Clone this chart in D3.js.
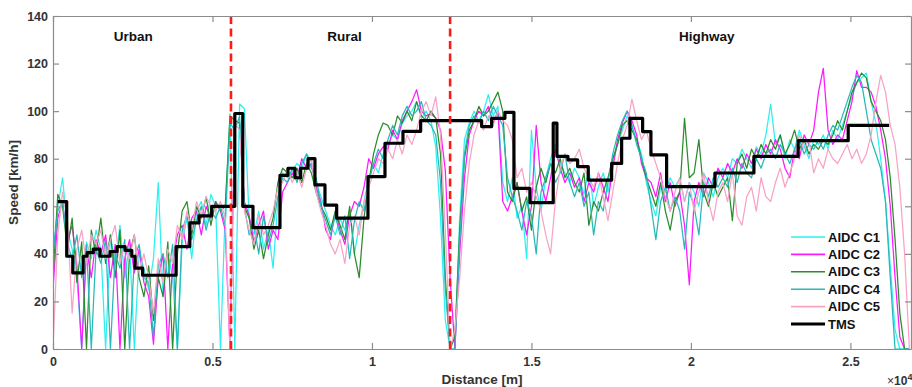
<!DOCTYPE html>
<html>
<head>
<meta charset="utf-8">
<script src="https://cdn.jsdelivr.net/npm/d3@7"></script>
<style>
  body { margin: 0; background: #fff; }
  svg text { font-family: "Liberation Sans", Arial, sans-serif; font-weight: bold; }
</style>
</head>
<body>
<div id="chart"></div>
<script>
// AIDC samples, one value every 150 m starting at 0 m
const sampleStep = 150;

const aidcC1 = [
    40, 60, 72, 50, 42, 30, 0, 45, 38, 50,
    42, 0, 48, 36, 52, 30, 44, 0, 40, 34,
    25, 38, 70, 22, 40, 30, 0, 45, 55, 38,
    58, 62, 52, 65, 60, 0, 58, 99, 0, 103,
    101, 55, 48, 58, 42, 50, 34, 62, 74, 72,
    75, 78, 76, 82, 79, 70, 64, 58, 52, 48,
    55, 50, 58, 40, 52, 62, 72, 78, 74, 82,
    86, 90, 88, 95, 98, 100, 104, 97, 100, 96,
    85, 55, 12, 0, 0, 55, 88, 95, 100, 96,
    100, 107, 98, 102, 70, 62, 72, 55, 60, 38,
    92, 68, 58, 72, 80, 86, 78, 74, 70, 76,
    72, 65, 76, 60, 68, 74, 66, 78, 86, 92,
    98, 94, 88, 82, 70, 62, 56, 68, 66, 72,
    68, 72, 62, 70, 66, 60, 74, 70, 64, 72,
    76, 72, 80, 78, 84, 80, 76, 85, 82, 90,
    103, 86, 90, 80, 88, 84, 92, 86, 80, 88,
    86, 90, 84, 92, 88, 94, 100, 106, 112, 114,
    116, 104, 95, 80, 62, 35, 8, 0, 0, 0
];
const aidcC2 = [
    25, 55, 62, 45, 52, 35, 0, 42, 30, 46,
    40, 48, 30, 44, 0, 38, 46, 32, 42, 28,
    22, 2, 30, 40, 0, 36, 48, 52, 42, 55,
    58, 48, 60, 55, 62, 58, 50, 0, 96, 95,
    62, 56, 45, 52, 58, 42, 50, 46, 66, 70,
    74, 72, 80, 76, 78, 68, 62, 50, 46, 58,
    50, 44, 56, 62, 60, 68, 80, 76, 82, 85,
    84, 92, 88, 96, 100, 104, 109, 100, 98, 99,
    97, 92, 75, 30, 0, 40, 72, 90, 96, 100,
    98, 102, 95, 100, 62, 58, 64, 70, 58, 48,
    60, 94, 70, 62, 72, 84, 76, 70, 74, 68,
    72, 62, 70, 66, 74, 68, 62, 76, 88, 95,
    100, 96, 90, 78, 72, 70, 64, 74, 62, 70,
    60, 66, 52, 27, 62, 70, 64, 72, 68, 76,
    72, 78, 74, 80, 76, 82, 78, 84, 80, 86,
    82, 88, 84, 76, 72, 84, 80, 90, 86, 92,
    108, 118, 92, 86, 90, 88, 96, 104, 117, 110,
    110, 108, 102, 92, 80, 60, 30, 5, 0, 0
];
const aidcC3 = [
    30, 65, 60, 42, 55, 28, 45, 0, 50, 40,
    55, 36, 48, 30, 50, 0, 40, 48, 30, 22,
    35, 12, 30, 22, 45, 0, 40, 58, 62, 48,
    60, 55, 64, 52, 62, 58, 60, 98, 96, 95,
    60, 55, 42, 50, 38, 48, 55, 70, 76, 74,
    72, 76, 70, 78, 74, 66, 60, 56, 50, 58,
    52, 46, 60, 40, 30, 55, 70, 82, 90, 95,
    94, 90, 98, 95, 100, 96, 104, 98, 96, 100,
    97, 82, 30, 0, 5, 50, 80, 92, 96, 102,
    98, 100, 104, 108, 100, 66, 62, 70, 58, 64,
    50, 68, 76, 70, 78, 74, 80, 72, 76, 70,
    66, 74, 52, 62, 58, 66, 72, 80, 86, 94,
    96, 92, 88, 80, 72, 66, 60, 70, 58, 50,
    62, 66, 97, 72, 74, 88, 66, 60, 70, 64,
    68, 72, 54, 78, 82, 76, 84, 80, 86, 82,
    88, 84, 90, 82, 86, 92, 84, 88, 82, 86,
    84, 88, 86, 90, 96, 92, 100, 108, 112, 116,
    114, 104, 100, 96, 88, 72, 46, 15, 0, 0
];
const aidcC4 = [
    40, 58, 62, 44, 38, 48, 30, 44, 0, 42,
    36, 46, 0, 40, 34, 46, 0, 38, 44, 30,
    28, 5, 35, 40, 30, 44, 0, 50, 56, 46,
    54, 60, 50, 58, 55, 60, 52, 95, 92, 98,
    60, 48, 52, 40, 56, 45, 52, 64, 72, 70,
    76, 70, 78, 82, 76, 72, 60, 54, 48, 56,
    48, 56, 38, 54, 62, 58, 70, 78, 84, 80,
    88, 94, 90, 98, 102, 98, 100, 104, 96, 94,
    90, 70, 25, 0, 0, 45, 82, 94, 98, 95,
    100, 96, 102, 98, 94, 72, 64, 58, 50, 62,
    56, 40, 66, 72, 78, 70, 74, 82, 70, 64,
    70, 60, 66, 48, 62, 58, 70, 82, 90, 96,
    100, 94, 86, 80, 74, 60, 46, 62, 68, 58,
    64, 58, 42, 66, 60, 48, 70, 64, 72, 68,
    72, 68, 76, 70, 78, 74, 72, 80, 76, 82,
    84, 80, 86, 82, 78, 84, 88, 82, 86, 84,
    88, 84, 90, 94, 92, 98, 104, 110, 115, 112,
    100, 88, 82, 76, 62, 30, 0, 0, 0, 0
];
const aidcC5 = [
    0, 48, 66, 55, 15, 42, 50, 36, 48, 44,
    50, 38, 46, 52, 36, 44, 38, 48, 32, 40,
    30, 15, 38, 28, 42, 36, 52, 46, 58, 50,
    62, 56, 64, 60, 58, 62, 55, 0, 95, 92,
    58, 50, 44, 56, 48, 52, 58, 68, 70, 76,
    70, 74, 68, 76, 80, 66, 58, 52, 44, 40,
    46, 36, 52, 56, 48, 62, 68, 74, 80, 78,
    84, 80, 88, 82, 90, 86, 92, 100, 104, 98,
    106, 90, 50, 0, 8, 30, 58, 78, 90, 96,
    92, 98, 94, 100, 96, 94, 88, 72, 76, 66,
    70, 64, 58, 48, 40, 62, 76, 82, 78, 80,
    84, 76, 72, 68, 74, 64, 54, 66, 78, 88,
    94, 105, 96, 88, 92, 84, 78, 72, 64, 58,
    66, 72, 62, 70, 58, 66, 74, 62, 54, 66,
    70, 62, 74, 56, 52, 64, 68, 58, 72, 64,
    62, 70, 76, 68, 74, 80, 90, 84, 88, 74,
    80, 76, 84, 80, 78, 82, 86, 80, 84, 78,
    82, 90, 104, 115, 108, 94, 86, 68, 40, 0
];

// TMS step profile: speed holds from each distance until the next one
const tmsDistance = [150, 430, 620, 945, 1070, 1260, 1470, 1790, 2010, 2260, 2470, 2570, 2810,
    3860, 4290, 4580, 4975, 5700, 5950, 6270, 7116, 7367, 7586, 7765, 7994, 8213, 8527, 8894,
    9875, 10408, 10972, 11527, 13439, 13752, 14169, 14451, 14953, 15683, 15799, 16144, 16448,
    16781, 17514, 17828, 18088, 18486, 18746, 19238, 20752, 21975, 23363, 24931, 26216];
const tmsSpeed = [62, 39, 32, 39, 40.5, 42, 39, 41, 43, 41.5, 39, 34, 31,
    43, 53, 56, 60, 99, 60, 51, 73, 76, 72, 76, 80, 69, 60.5, 55,
    72.5, 86.5, 91.5, 96, 93.5, 97, 99.5, 67.5, 61.5, 95, 81, 79.5, 76.7,
    71, 78, 88.6, 97, 91.4, 81.6, 68.3, 74, 81, 87.6, 94, 94];

const zoneBorders = [5580, 12450];
const zoneNames = ['Urban', 'Rural', 'Highway'];
const zoneLabelX = [2520, 9140, 20500];

const xTicks = [0, 5000, 10000, 15000, 20000, 25000];
const xTickLabels = ['0', '0.5', '1', '1.5', '2', '2.5'];
const yTicks = [0, 20, 40, 60, 80, 100, 120, 140];

const seriesNames = ['AIDC C1', 'AIDC C2', 'AIDC C3', 'AIDC C4', 'AIDC C5', 'TMS'];
const seriesColors = ['#2ef0f0', '#ff19ff', '#2a8c2a', '#27b9b9', '#f7a3c6', '#000000'];

const aidcSeries = [aidcC1, aidcC2, aidcC3, aidcC4, aidcC5];

const margin = { top: 16, right: 1, bottom: 38, left: 53 },
    width = 912 - margin.left - margin.right,
    height = 387 - margin.top - margin.bottom;

const svg = d3.select('#chart').append('svg')
    .attr('width', 912)
    .attr('height', 387)
    .append('g')
    .attr('transform', `translate(${margin.left},${margin.top})`);

const x = d3.scaleLinear().domain([0, 26900]).range([0, width]);
const y = d3.scaleLinear().domain([0, 140]).range([height, 0]);

svg.append('clipPath').attr('id', 'plot-clip')
    .append('rect').attr('width', width).attr('height', height);

const plot = svg.append('g').attr('clip-path', 'url(#plot-clip)');

const aidcLine = d3.line()
    .x((d, i) => x(i * sampleStep))
    .y(d => y(d));

aidcSeries.forEach((values, i) => {
    plot.append('path')
        .datum(values)
        .attr('d', aidcLine)
        .attr('fill', 'none')
        .attr('stroke', seriesColors[i])
        .attr('stroke-width', 1.25)
        .attr('stroke-linejoin', 'round');
});

const tmsLine = d3.line()
    .curve(d3.curveStepAfter)
    .x((d, i) => x(tmsDistance[i]))
    .y(d => y(d));

plot.append('path')
    .datum(tmsSpeed)
    .attr('d', tmsLine)
    .attr('fill', 'none')
    .attr('stroke', '#000')
    .attr('stroke-width', 3.2)
    .attr('stroke-linejoin', 'round');

// zone borders
zoneBorders.forEach(b => {
    svg.append('line')
        .attr('x1', x(b)).attr('x2', x(b))
        .attr('y1', 0).attr('y2', height)
        .attr('stroke', '#ff1a1a')
        .attr('stroke-width', 2.6)
        .attr('stroke-dasharray', '8,4.5');
});

zoneNames.forEach((name, i) => {
    svg.append('text')
        .attr('x', x(zoneLabelX[i]))
        .attr('y', 25)
        .attr('text-anchor', 'middle')
        .attr('font-size', 13.5)
        .attr('fill', '#111')
        .text(name);
});

// axes box with inward ticks, matlab style
const axisColor = '#8c8c8c';
const tickLen = 6;

svg.append('g')
    .attr('transform', `translate(0,${height})`)
    .call(d3.axisBottom(x).tickValues(xTicks).tickFormat((d, i) => xTickLabels[i])
        .tickSizeInner(-tickLen).tickSizeOuter(0).tickPadding(8));
svg.append('g')
    .call(d3.axisTop(x).tickValues(xTicks).tickFormat('').tickSizeInner(-tickLen).tickSizeOuter(0));
svg.append('g')
    .call(d3.axisLeft(y).tickValues(yTicks).tickSizeInner(-tickLen).tickSizeOuter(0).tickPadding(5));
svg.append('g')
    .attr('transform', `translate(${width},0)`)
    .call(d3.axisRight(y).tickValues(yTicks).tickFormat('').tickSizeInner(-tickLen).tickSizeOuter(0));

svg.selectAll('.domain').attr('stroke', axisColor).attr('stroke-width', 1.2);
svg.selectAll('.tick line').attr('stroke', axisColor).attr('stroke-width', 1.2);
svg.selectAll('.tick text')
    .attr('font-size', 12.5)
    .attr('fill', '#333')
    .style('font-family', '"Liberation Sans", Arial, sans-serif')
    .style('font-weight', 'bold');

svg.append('text')
    .attr('x', width / 2)
    .attr('y', height + 35)
    .attr('text-anchor', 'middle')
    .attr('font-size', 13.5)
    .attr('fill', '#333')
    .text('Distance [m]');

svg.append('text')
    .attr('transform', `translate(${-35},${height / 2}) rotate(-90)`)
    .attr('text-anchor', 'middle')
    .attr('font-size', 13.5)
    .attr('fill', '#333')
    .text('Speed [km/h]');

const expo = svg.append('text')
    .attr('x', 834)
    .attr('y', height + 36)
    .attr('font-size', 12)
    .attr('fill', '#333');
expo.append('tspan').style('font-weight', 'normal').text('\u00d7');
expo.append('tspan').text('10');
expo.append('tspan').attr('dy', -5).attr('font-size', 9).text('4');

// legend
const legend = svg.append('g').attr('transform', `translate(${738},${221})`);
seriesNames.forEach((name, i) => {
    const row = legend.append('g').attr('transform', `translate(0,${i * 17.4})`);
    row.append('line')
        .attr('x1', 0).attr('x2', 34)
        .attr('stroke', seriesColors[i])
        .attr('stroke-width', i === 5 ? 3.2 : 1.6);
    row.append('text')
        .attr('x', 37)
        .attr('y', 4.5)
        .attr('font-size', 13)
        .attr('fill', '#111')
        .text(name);
});
</script>
</body>
</html>
